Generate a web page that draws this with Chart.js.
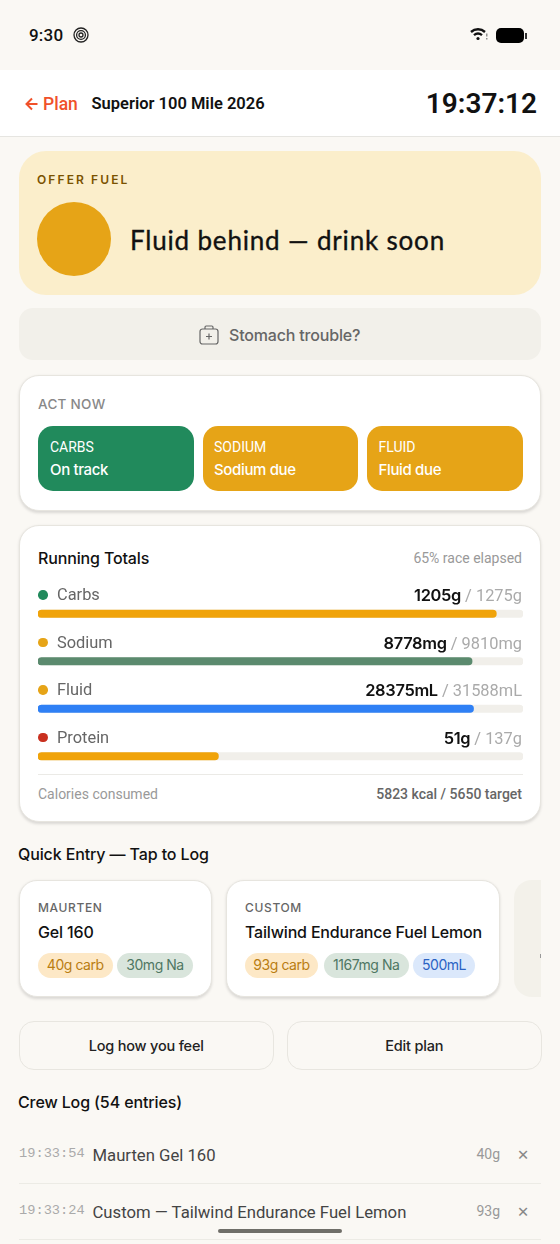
<!DOCTYPE html>
<html>
<head>
<meta charset="utf-8">
<title>Superior 100 Mile 2026</title>
<script src="https://cdn.jsdelivr.net/npm/chart.js@4"></script>
<style>
  * { box-sizing: border-box; }
  html, body { margin: 0; padding: 0; }
  body { width: 560px; height: 1244px; position: relative; overflow: hidden; background: #faf8f4; font-family: Inter, sans-serif; color: #111; }
  .abs { position: absolute; }
  .t { position: absolute; white-space: nowrap; line-height: 24px; height: 24px; }
  .r { font-family: Roboto, sans-serif; }
  .card { position: absolute; background: #fff; border: 1px solid #e7e5df; box-shadow: 0 1.5px 3px rgba(0,0,0,.13); }
  .tile { position: absolute; top: 425.5px; height: 65.5px; border-radius: 15px; color: #fff; }
  .pill { position: absolute; top: 953px; height: 24.5px; line-height: 24.5px; border-radius: 13px; text-align: center; font-size: 14px; letter-spacing: -.45px; }
  .carb { background: #fde8c6; color: #b97d12; }
  .na { background: #d9e5dc; color: #4f7763; }
  .ml { background: #dbe8fb; color: #2a63c4; }
  .btn { position: absolute; top: 1020.5px; height: 49px; line-height: 47px; text-align: center; border: 1px solid #e8e6e0; border-radius: 15px; font-size: 14.5px; font-weight: 500; letter-spacing: -.2px; color: #222; }
  .dot { position: absolute; width: 9.5px; height: 9.5px; border-radius: 50%; left: 38px; }
  .line { position: absolute; left: 18.5px; width: 522.5px; height: 1px; background: #ecebe5; }
  #barsChart { position: absolute; left: 38px; top: 590px; }
</style>
</head>
<body>
<!-- barra de estado -->
<div class="t r" style="left:29px;top:23px;font-size:17px;font-weight:500;letter-spacing:.2px">9:30</div>
<svg class="abs" style="left:73px;top:27px" width="16" height="16" viewBox="0 0 16 16" fill="none" stroke="#222" stroke-width="1.3"><circle cx="8" cy="8" r="7"/><circle cx="8" cy="8" r="4.4"/><circle cx="8" cy="8" r="2"/></svg>
<svg class="abs" style="left:470px;top:27px" width="18" height="14" viewBox="0 0 18 14" fill="none" stroke="#111" stroke-width="2.4"><path d="M1 5c4-3.6 10-3.6 14 0"/><path d="M4 8.2c2.4-2 5.6-2 8 0"/><circle cx="8" cy="11.5" r="1.6" fill="#111" stroke="none"/><path d="M16.8 6.5v3M16.8 11v1.4" stroke-width="1.2" stroke="#777"/></svg>
<div class="abs" style="left:496px;top:28px;width:28px;height:15px;border-radius:5px;background:#000"></div>
<div class="abs" style="left:525px;top:32.5px;width:1.5px;height:6px;background:#333"></div>

<!-- cabecera -->
<div class="abs" style="left:0;top:70px;width:560px;height:67px;background:#fff;border-bottom:1px solid #e6e5e1"></div>
<svg class="abs" style="left:25px;top:97px" width="13" height="14" viewBox="0 0 13 14" fill="none" stroke="#f0512a" stroke-width="2"><path d="M12.5 7H1.5M7 1.5L1.5 7 7 12.5"/></svg>
<div class="t r" style="left:43px;top:92px;font-size:17.5px;font-weight:500;color:#f0512a">Plan</div>
<div class="t r" style="left:91.5px;top:92px;font-size:16.5px;font-weight:600;color:#111">Superior 100 Mile 2026</div>
<div class="t r" style="right:23px;top:92px;font-size:28px;font-weight:600;color:#111;letter-spacing:0">19:37:12</div>

<!-- aviso -->
<div class="abs" style="left:18.5px;top:151px;width:522.5px;height:144px;border-radius:27px;background:#fbeecb"></div>
<div class="t" style="left:37px;top:168px;font-size:12px;font-weight:600;letter-spacing:2.1px;color:#7a5200">OFFER FUEL</div>
<div class="abs" style="left:37px;top:202px;width:74px;height:74px;border-radius:50%;background:#e6a417"></div>
<div class="t" style="left:130px;top:228px;font-size:26px;font-family:Lato,sans-serif;letter-spacing:.82px;color:#111;-webkit-text-stroke:.35px #111">Fluid behind — drink soon</div>

<!-- boton estomago -->
<div class="abs" style="left:18.5px;top:308px;width:522.5px;height:52px;border-radius:14px;background:#f2f0ea"></div>
<svg class="abs" style="left:199px;top:325px" width="20" height="20" viewBox="0 0 20 20" fill="none" stroke="#666" stroke-width="1.2"><rect x="1" y="4" width="18" height="15" rx="2.5"/><path d="M6 4V2.2C6 1.5 6.5 1 7.2 1h5.6c.7 0 1.2.5 1.2 1.2V4M10 8.5v6M7 11.5h6"/></svg>
<div class="t" style="left:229px;top:322.5px;font-size:16px;font-weight:500;letter-spacing:-.18px;color:#666">Stomach trouble?</div>

<!-- act now -->
<div class="card" style="left:18.5px;top:374.5px;width:522.5px;height:136.5px;border-radius:20px"></div>
<div class="t" style="left:38px;top:392px;font-size:13.5px;font-weight:500;letter-spacing:.3px;color:#888">ACT NOW</div>
<div class="tile" style="left:38px;width:156px;background:#218a5c"></div>
<div class="tile" style="left:203px;width:155px;background:#e6a417"></div>
<div class="tile" style="left:367px;width:156px;background:#e6a417"></div>
<div id="tiles"></div>

<!-- totales -->
<div class="card" style="left:18.5px;top:525px;width:522.5px;height:297px;border-radius:20px"></div>
<div class="t" style="left:38px;top:546px;font-size:16px;font-weight:500;letter-spacing:-.15px;color:#111">Running Totals</div>
<div class="t r" style="right:38px;top:546px;font-size:14px;color:#999">65% race elapsed</div>
<canvas id="barsChart" width="485" height="190"></canvas>
<div id="rows"></div>
<div class="abs" style="left:38px;top:774px;width:484.5px;height:1px;background:#ebeae6"></div>
<div class="t r" style="left:38px;top:782px;font-size:14px;color:#999">Calories consumed</div>
<div class="t r" style="right:38px;top:782px;font-size:14px;font-weight:500;color:#666">5823 kcal / 5650 target</div>

<!-- entrada rapida -->
<div class="t" style="left:18px;top:842px;font-size:16px;font-weight:500;letter-spacing:-.12px;color:#111">Quick Entry — Tap to Log</div>
<div class="card" style="left:19px;top:880px;width:192.5px;height:117px;border-radius:18px"></div>
<div class="card" style="left:226px;top:880px;width:273.5px;height:117px;border-radius:18px"></div>
<div class="abs" style="left:514px;top:880px;width:27px;height:117px;border-radius:18px 0 0 18px;background:#f3f1ea"></div>
<div class="abs" style="left:539.5px;top:954px;width:1px;height:4px;background:#999"></div>
<div class="t" style="left:38px;top:896px;font-size:12px;font-weight:500;letter-spacing:.65px;color:#666">MAURTEN</div>
<div class="t" style="left:38px;top:920px;font-size:16px;font-weight:500;letter-spacing:-.15px;color:#111">Gel 160</div>
<div class="t" style="left:245px;top:896px;font-size:12px;font-weight:500;letter-spacing:.65px;color:#666">CUSTOM</div>
<div class="t" style="left:245px;top:920px;font-size:16px;font-weight:500;letter-spacing:-.18px;color:#111">Tailwind Endurance Fuel Lemon</div>
<div class="pill carb" style="left:38px;width:74.5px">40g carb</div>
<div class="pill na" style="left:117px;width:76px">30mg Na</div>
<div class="pill carb" style="left:245px;width:73px">93g carb</div>
<div class="pill na" style="left:324px;width:84.5px">1167mg Na</div>
<div class="pill ml" style="left:413px;width:62px">500mL</div>

<div class="btn" style="left:19px;width:254.5px">Log how you feel</div>
<div class="btn" style="left:287px;width:254.5px">Edit plan</div>

<!-- registro -->
<div class="t" style="left:18px;top:1089.5px;font-size:16px;font-weight:500;letter-spacing:-.12px;color:#111">Crew Log (54 entries)</div>
<div id="log"></div>
<div class="line" style="top:1183px"></div>
<div class="line" style="top:1239px"></div>
<div class="abs" style="left:218px;top:1228.5px;width:124px;height:4.5px;border-radius:3px;background:#6f6e68"></div>

<script>
// Datos de la tarjeta "Running Totals"
const nutrients = ["Carbs", "Sodium", "Fluid", "Protein"];
const consumed = ["1205g", "8778mg", "28375mL", "51g"];
const targets = ["1275g", "9810mg", "31588mL", "137g"];
const fillPercent = [94.5, 89.5, 89.8, 37.2];
const trackPercent = [100, 100, 100, 100];
const dotColors = ["#218a5c", "#e6a417", "#e6a417", "#c9301f"];
const barColors = ["#f0a30a", "#5b8a6e", "#2f80f5", "#f0a30a"];

// Datos de los botones y del registro
const tileLabels = ["CARBS", "SODIUM", "FLUID"];
const tileStates = ["On track", "Sodium due", "Fluid due"];
const logTimes = ["19:33:54", "19:33:24"];
const logNames = ["Maurten Gel 160", "Custom — Tailwind Endurance Fuel Lemon"];
const logAmounts = ["40g", "93g"];

// Crear un texto con posicion absoluta
function addText(parent, html, css) {
  const el = document.createElement("div");
  el.className = "t";
  el.style.cssText = css;
  el.innerHTML = html;
  parent.appendChild(el);
}

const tilesEl = document.getElementById("tiles");
const tileLeft = [50, 214, 378.5];
tileLabels.forEach((label, i) => {
  addText(tilesEl, label, `left:${tileLeft[i]}px;top:434.5px;font-size:14px;color:#fff;font-family:Roboto,sans-serif`);
  addText(tilesEl, tileStates[i], `left:${tileLeft[i]}px;top:457.5px;font-size:15px;font-weight:500;letter-spacing:-.35px;color:#fff`);
});

const rowsEl = document.getElementById("rows");
nutrients.forEach((name, i) => {
  const y = 595 + i * 47.5;
  const dot = document.createElement("div");
  dot.className = "dot";
  dot.style.top = y - 4.75 + "px";
  dot.style.background = dotColors[i];
  rowsEl.appendChild(dot);
  addText(rowsEl, name, `left:57px;top:${y - 12}px;font-size:16.4px;color:#666;font-family:Roboto,sans-serif`);
  addText(
    rowsEl,
    `<span style="font-family:Inter,sans-serif;font-weight:600;color:#111;letter-spacing:-.3px">${consumed[i]}</span><span style="color:#aaa"> / ${targets[i]}</span>`,
    `right:38px;top:${y - 12}px;font-size:16.4px;font-family:Roboto,sans-serif`
  );
});

const logEl = document.getElementById("log");
logTimes.forEach((time, i) => {
  const y = 1155 + i * 57;
  addText(logEl, time, `left:19px;top:${y - 13}px;font-size:13.7px;color:#aaa;font-family:'Liberation Mono',monospace`);
  addText(logEl, logNames[i], `left:92.5px;top:${y - 11.5}px;font-size:16.7px;color:#444;font-family:Roboto,sans-serif`);
  addText(logEl, logAmounts[i], `right:60px;top:${y - 13}px;font-size:14px;color:#999;font-family:Roboto,sans-serif`);
  addText(logEl, "✕", `left:517px;top:${y - 12.5}px;font-size:14.5px;color:#888;font-family:'DejaVu Sans',sans-serif`);
});

// Barras de progreso
new Chart(document.getElementById("barsChart"), {
  type: "bar",
  data: {
    labels: nutrients,
    datasets: [
      {
        data: fillPercent,
        backgroundColor: barColors,
        barThickness: 7.5,
        borderRadius: 4,
        borderSkipped: false,
        order: 1,
      },
      {
        data: trackPercent,
        backgroundColor: "#f1efea",
        barThickness: 7.5,
        borderRadius: 4,
        borderSkipped: false,
        order: 2,
      },
    ],
  },
  options: {
    indexAxis: "y",
    responsive: false,
    animation: false,
    layout: { padding: 0 },
    datasets: { bar: { grouped: false } },
    plugins: { legend: { display: false }, tooltip: { enabled: false } },
    scales: {
      x: { display: false, min: 0, max: 100 },
      y: { display: false },
    },
  },
});
</script>
</body>
</html>
